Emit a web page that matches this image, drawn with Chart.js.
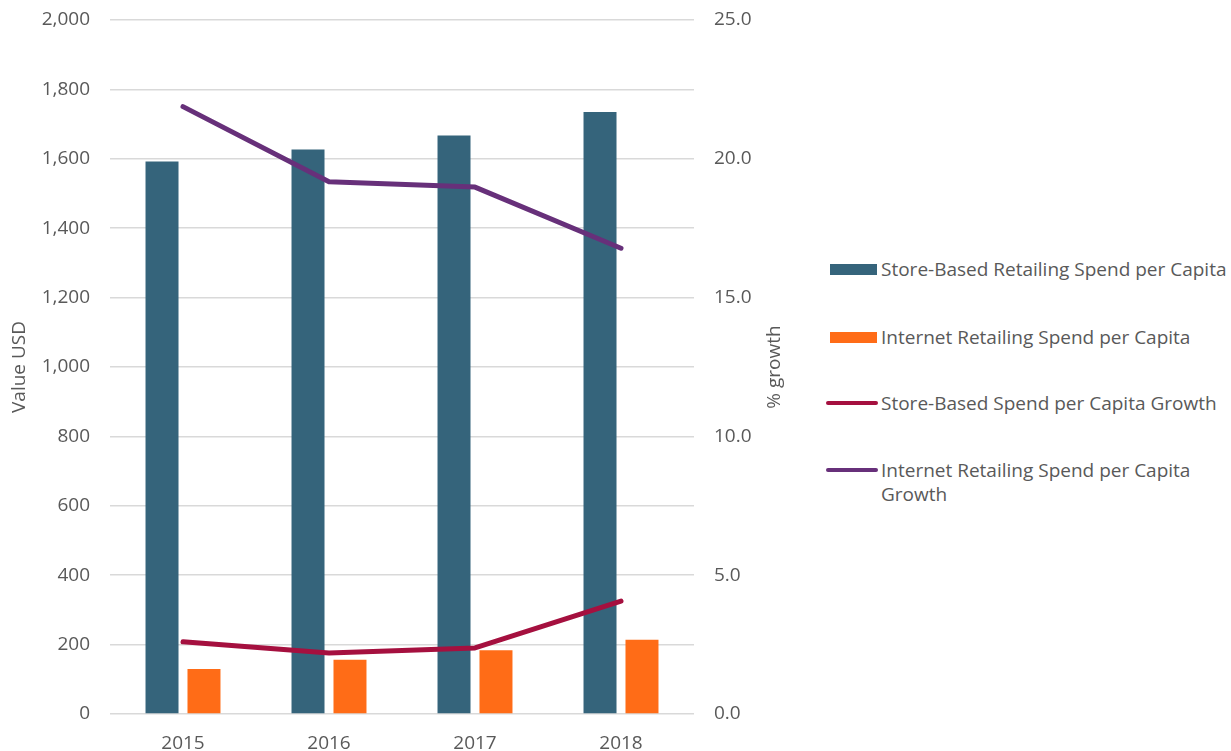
<!DOCTYPE html>
<html>
<head>
<meta charset="utf-8">
<script src="https://cdn.jsdelivr.net/npm/chart.js@4.4.1/dist/chart.umd.min.js"></script>
<style>
  html, body { margin: 0; padding: 0; background: #ffffff; }
  body { width: 1231px; height: 751px; position: relative; overflow: hidden; font-family: 'Open Sans', sans-serif; }
  #chart-wrap { position: absolute; left: 0; top: 0; width: 800px; height: 751px; }
  #legend { position: absolute; left: 0; top: 0; }
  .lg-item { position: absolute; left: 0; }
  .lg-swatch { position: absolute; }
  .lg-text { position: absolute; left: 881px; width: 350px; font-size: 19px; line-height: 24px; color: #595959; white-space: normal; }
</style>
</head>
<body>
<div id="chart-wrap"><canvas id="chart-main"></canvas></div>
<div id="legend"></div>
<script>
// ---- data ----
const years = ['2015', '2016', '2017', '2018'];
const storeSpend = [1592, 1627, 1667, 1735];      // USD
const internetSpend = [130, 156, 184, 214];       // USD
const storeGrowth = [2.6, 2.2, 2.38, 4.07];       // %
const internetGrowth = [21.88, 19.17, 18.98, 16.78]; // %

const seriesLabels = [
  'Store-Based Retailing Spend per Capita',
  'Internet Retailing Spend per Capita',
  'Store-Based Spend per Capita Growth',
  'Internet Retailing Spend per Capita Growth'
];

// Colours
const colors = {
  store: '#35647b',
  internet: '#ff6c17',
  storeLine: '#a5103f',
  internetLine: '#67307a',
  text: '#595959',
  grid: '#d9d9d9'
};

const font = { family: "'Open Sans', sans-serif", size: 19 };

// Right axis title reads bottom-to-top like the left one, so draw it ourselves
const rightTitlePlugin = {
  id: 'rightTitle',
  afterDraw(chart) {
    const { ctx, chartArea } = chart;
    ctx.save();
    ctx.font = `${font.size}px ${font.family}`;
    ctx.fillStyle = colors.text;
    ctx.textAlign = 'center';
    ctx.textBaseline = 'middle';
    ctx.translate(chart.scales.y1.right - 25, (chartArea.top + chartArea.bottom) / 2);
    ctx.rotate(-Math.PI / 2);
    ctx.fillText('% growth', 0, 0);
    ctx.restore();
  }
};

// fixed box sizes so the plot area lands where the reference has it
function fixVertical(width) {
  return scale => {
    scale.width = width;
    scale.paddingTop = 0;
    scale.paddingBottom = 0;
  };
}

const chart = new Chart(document.getElementById('chart-main'), {
  data: {
    labels: years,
    datasets: [
      { type: 'bar', label: seriesLabels[0], data: storeSpend, backgroundColor: colors.store, yAxisID: 'y', order: 2 },
      { type: 'bar', label: seriesLabels[1], data: internetSpend, backgroundColor: colors.internet, yAxisID: 'y', order: 2 },
      { type: 'line', label: seriesLabels[2], data: storeGrowth, borderColor: colors.storeLine, backgroundColor: colors.storeLine,
        borderWidth: 5, pointRadius: 0, borderCapStyle: 'round', borderJoinStyle: 'round', yAxisID: 'y1', order: 1 },
      { type: 'line', label: seriesLabels[3], data: internetGrowth, borderColor: colors.internetLine, backgroundColor: colors.internetLine,
        borderWidth: 5, pointRadius: 0, borderCapStyle: 'round', borderJoinStyle: 'round', yAxisID: 'y1', order: 1 }
    ]
  },
  options: {
    responsive: true,
    maintainAspectRatio: false,
    animation: false,
    barPercentage: 0.786,
    categoryPercentage: 0.575,
    layout: { padding: { top: 20, left: 0, right: 0, bottom: 0 } },
    plugins: {
      legend: { display: false },
      tooltip: { enabled: false }
    },
    scales: {
      x: {
        grid: { display: false },
        border: { display: false },
        ticks: { font: font, color: colors.text, padding: 10 },
        afterFit(scale) {
          scale.height = 37;
          scale.paddingLeft = 0;
          scale.paddingRight = 0;
        }
      },
      y: {
        position: 'left',
        min: 0,
        max: 2000,
        grid: { color: colors.grid, lineWidth: 1.5, drawTicks: false },
        border: { display: false },
        ticks: {
          stepSize: 200,
          font: font,
          color: colors.text,
          padding: 20,
          callback: v => v.toLocaleString('en-US')
        },
        title: { display: true, text: 'Value USD', font: font, color: colors.text, padding: { top: 8, bottom: 0 } },
        afterFit: fixVertical(110)
      },
      y1: {
        position: 'right',
        min: 0,
        max: 25,
        grid: { display: false, drawTicks: false },
        border: { display: false },
        ticks: {
          stepSize: 5,
          font: font,
          color: colors.text,
          padding: 20,
          callback: v => v.toFixed(1)
        },
        afterFit: fixVertical(106)
      }
    }
  },
  plugins: [rightTitlePlugin]
});

// ---- HTML legend built from the chart's datasets ----
const legendRows = [269, 337, 403, 470]; // vertical centres of legend rows
const legendEl = document.getElementById('legend');
chart.data.datasets.forEach((ds, i) => {
  const item = document.createElement('div');
  item.className = 'lg-item';
  const sw = document.createElement('div');
  sw.className = 'lg-swatch';
  const cy = legendRows[i];
  if (ds.type === 'bar') {
    Object.assign(sw.style, { left: '830px', top: (cy - 5.5) + 'px', width: '47px', height: '11px', background: ds.backgroundColor });
  } else {
    Object.assign(sw.style, { left: '826px', top: (cy - 2) + 'px', width: '52px', height: '4px', borderRadius: '2px', background: ds.borderColor });
  }
  const tx = document.createElement('div');
  tx.className = 'lg-text';
  tx.style.top = (cy - 12) + 'px';
  tx.textContent = ds.label;
  item.appendChild(sw);
  item.appendChild(tx);
  legendEl.appendChild(item);
});
</script>
</body>
</html>
